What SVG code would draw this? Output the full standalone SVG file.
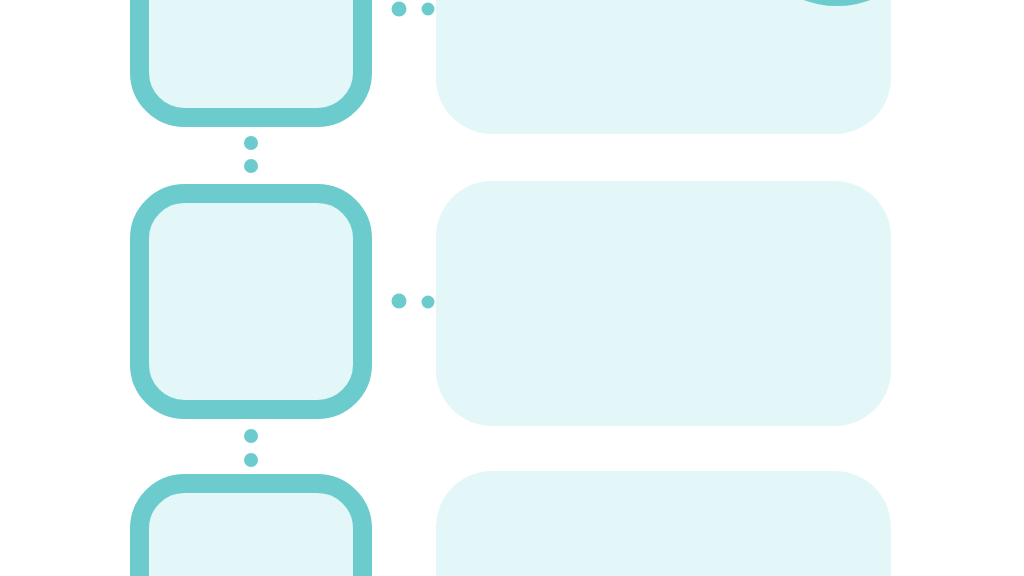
<svg xmlns="http://www.w3.org/2000/svg" width="1024" height="576" viewBox="0 0 1024 576">
<style>
.sq{fill:#e3f7f9;stroke:#6ccbcc;stroke-width:19}
.card{fill:#e3f7f9}
.dot{fill:#6ccbcc}
</style>
<rect width="1024" height="576" fill="#ffffff"/>
<g id="card1"><rect class="card" x="436" y="-111" width="455" height="245" rx="56"/></g>
<g id="card2"><rect class="card" x="436" y="181" width="455" height="245" rx="56"/></g>
<g id="card3"><rect class="card" x="436" y="471" width="455" height="245" rx="56"/></g>
<g id="badge"><circle cx="837" cy="-90" r="96" fill="#6ccbcc"/></g>
<g id="node1"><rect class="sq" x="139.5" y="-98.5" width="223" height="216" rx="45"/></g>
<g id="node2"><rect class="sq" x="139.5" y="193.5" width="223" height="216" rx="45"/></g>
<g id="node3"><rect class="sq" x="139.5" y="483.5" width="223" height="216" rx="45"/></g>
<g id="connectors">
<circle class="dot" cx="251" cy="143" r="7"/>
<circle class="dot" cx="251" cy="166" r="7"/>
<circle class="dot" cx="251" cy="436" r="7"/>
<circle class="dot" cx="251" cy="460" r="7"/>
<circle class="dot" cx="399" cy="9" r="7.5"/>
<circle class="dot" cx="428" cy="9" r="6.5"/>
<circle class="dot" cx="399" cy="301" r="7.5"/>
<circle class="dot" cx="428" cy="302" r="6.5"/>
</g>
</svg>
